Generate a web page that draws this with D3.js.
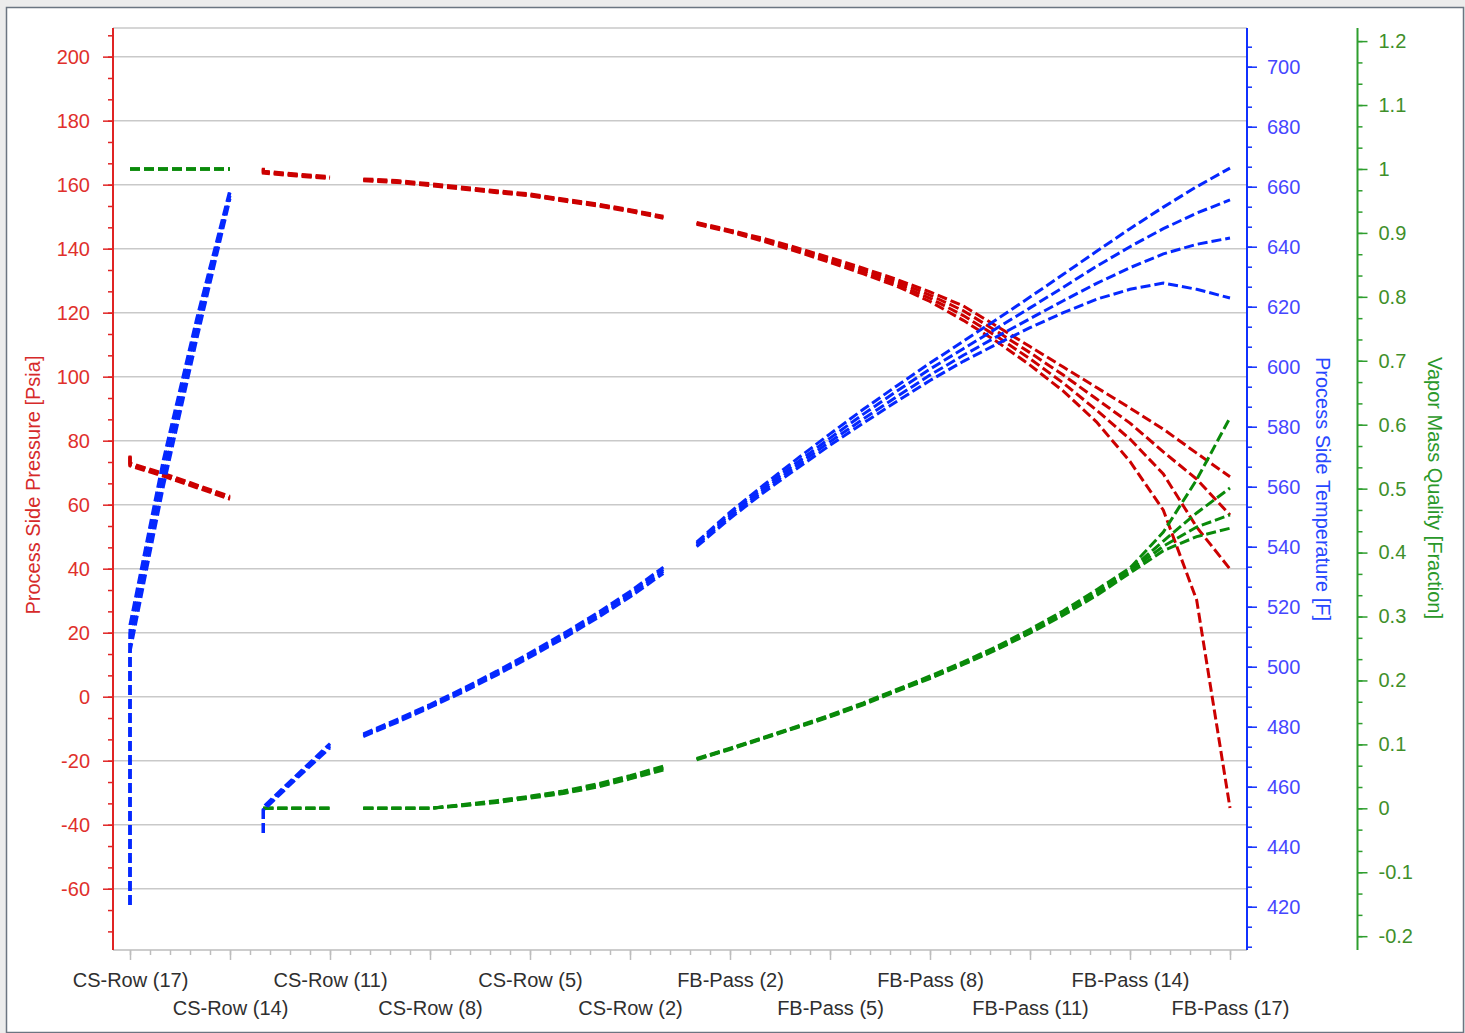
<!DOCTYPE html>
<html>
<head>
<meta charset="utf-8">
<script src="https://cdn.jsdelivr.net/npm/d3@7"></script>
<style>
  html, body { margin: 0; padding: 0; background: #ececec; }
  svg { display: block; }
  text { font-family: "Liberation Sans", Arial, sans-serif; }
</style>
</head>
<body>
<svg id="chart" width="1465" height="1033"></svg>
<script>
// ---- categories along the coil: convection rows 17..1, then firebox passes 1..17
const categories = [
  "CS-Row (17)", "CS-Row (16)", "CS-Row (15)", "CS-Row (14)", "CS-Row (13)", "CS-Row (12)",
  "CS-Row (11)", "CS-Row (10)", "CS-Row (9)", "CS-Row (8)", "CS-Row (7)", "CS-Row (6)",
  "CS-Row (5)", "CS-Row (4)", "CS-Row (3)", "CS-Row (2)", "CS-Row (1)",
  "FB-Pass (1)", "FB-Pass (2)", "FB-Pass (3)", "FB-Pass (4)", "FB-Pass (5)", "FB-Pass (6)",
  "FB-Pass (7)", "FB-Pass (8)", "FB-Pass (9)", "FB-Pass (10)", "FB-Pass (11)", "FB-Pass (12)",
  "FB-Pass (13)", "FB-Pass (14)", "FB-Pass (15)", "FB-Pass (16)", "FB-Pass (17)"
];

// ---- axis tick labels
const pressureTicks = [-60, -40, -20, 0, 20, 40, 60, 80, 100, 120, 140, 160, 180, 200];
const temperatureTicks = [420, 440, 460, 480, 500, 520, 540, 560, 580, 600, 620, 640, 660, 680, 700];
const qualityTicks = [-0.2, -0.1, 0, 0.1, 0.2, 0.3, 0.4, 0.5, 0.6, 0.7, 0.8, 0.9, 1, 1.1, 1.2];

// ---- section A: steam coil, CS rows 17-14 (first point is the coil inlet)
const coilA_pos = [0, 0, 1, 2, 3];
const coilA_pressure = [
  [75.4, 73.0, 69.8, 66.2, 62.6],
  [75.2, 72.7, 69.5, 65.9, 62.3],
  [75.0, 72.4, 69.2, 65.6, 62.0],
  [74.8, 72.1, 68.9, 65.3, 61.7]
];
const coilA_temperature = [
  [420.6, 514, 569, 616, 659],
  [420.6, 511, 566, 614, 658],
  [420.6, 508, 563, 611, 657],
  [420.6, 505, 560, 609, 656]
];
const coilA_quality = [
  [1, 1, 1, 1, 1],
  [1, 1, 1, 1, 1],
  [1, 1, 1, 1, 1],
  [1, 1, 1, 1, 1]
];

// ---- section B: CS rows 13-11 (first point is the section inlet)
const coilB_pos = [4, 4, 5, 6];
const coilB_pressure = [
  [165.3, 164.2, 163.3, 162.5],
  [165.1, 164.0, 163.1, 162.3],
  [164.9, 163.8, 162.9, 162.1],
  [164.7, 163.6, 162.7, 161.9]
];
const coilB_temperature = [
  [444.6, 453.3, 463.9, 474.4],
  [444.6, 452.9, 463.5, 473.9],
  [444.6, 452.5, 463.1, 473.4],
  [444.6, 452.1, 462.7, 472.9]
];
const coilB_quality = [
  [0, 0, 0, 0],
  [0, 0, 0, 0],
  [0, 0, 0, 0],
  [0, 0, 0, 0]
];

// ---- section C: CS rows 10-1
const coilC_pos = [7, 8, 9, 10, 11, 12, 13, 14, 15, 16];
const coilC_pressure = [
  [161.8, 161.3, 160.3, 159.2, 158.1, 157.1, 155.5, 154.0, 152.2, 150.1],
  [161.6, 161.1, 160.1, 159.0, 157.9, 156.9, 155.3, 153.8, 152.0, 149.9],
  [161.4, 160.9, 159.9, 158.8, 157.7, 156.7, 155.1, 153.6, 151.8, 149.7],
  [161.2, 160.7, 159.7, 158.6, 157.5, 156.5, 154.9, 153.4, 151.6, 149.5]
];
const coilC_temperature = [
  [477.6, 482.4, 487.4, 492.8, 498.5, 504.6, 511.0, 517.8, 525.1, 533.2],
  [477.3, 482.0, 487.0, 492.4, 498.1, 504.1, 510.4, 517.2, 524.5, 532.5],
  [477.0, 481.7, 486.7, 492.0, 497.6, 503.6, 509.9, 516.6, 523.8, 531.8],
  [476.7, 481.4, 486.4, 491.6, 497.2, 503.2, 509.4, 516.1, 523.2, 531.1]
];
const coilC_quality = [
  [0, 0, 0, 0.006, 0.012, 0.019, 0.027, 0.038, 0.051, 0.066],
  [0, 0, 0, 0.005, 0.011, 0.018, 0.025, 0.036, 0.049, 0.064],
  [0, 0, 0, 0.005, 0.010, 0.017, 0.024, 0.035, 0.047, 0.062],
  [0, 0, 0, 0.004, 0.009, 0.016, 0.023, 0.033, 0.046, 0.060]
];

// ---- section D: firebox passes 1-17
const coilD_pos = [17, 18, 19, 20, 21, 22, 23, 24, 25, 26, 27, 28, 29, 30, 31, 32, 33];
const coilD_pressure = [
  [148.2, 145.8, 143.2, 140.3, 137.2, 133.9, 130.4, 126.5, 122.1, 115.8, 109.4, 103.0, 96.6, 90.2, 83.6, 76.1, 68.7],
  [148.0, 145.6, 142.9, 139.9, 136.7, 133.3, 129.7, 125.5, 120.6, 114.2, 107.5, 100.5, 93.0, 85.5, 76.5, 68.0, 56.8],
  [147.8, 145.4, 142.6, 139.5, 136.2, 132.7, 129.0, 124.5, 119.1, 112.6, 105.6, 98.0, 89.5, 80.5, 69.6, 53.0, 39.9],
  [147.6, 145.2, 142.3, 139.1, 135.7, 132.1, 128.3, 123.5, 117.6, 111.0, 103.6, 95.5, 85.8, 73.5, 58.3, 30.2, -34.8]
];
const coilD_temperature = [
  [541.5, 551.5, 560.5, 569.2, 577.6, 585.8, 593.6, 601.2, 608.5, 615.8, 623.2, 630.8, 638.5, 646.0, 653.2, 660.0, 666.2],
  [541.0, 550.8, 559.6, 568.0, 576.2, 584.2, 591.8, 599.2, 606.0, 612.8, 619.6, 626.5, 633.5, 640.0, 646.0, 651.2, 655.6],
  [540.5, 550.1, 558.8, 567.0, 575.0, 582.6, 590.0, 597.2, 603.8, 610.0, 616.0, 622.0, 627.8, 633.0, 637.6, 640.8, 642.9],
  [540.0, 549.4, 558.0, 566.0, 573.8, 581.2, 588.4, 595.4, 601.8, 607.5, 613.0, 618.0, 622.5, 625.8, 627.9, 625.8, 622.9]
];
const coilD_quality = [
  [0.078, 0.094, 0.111, 0.128, 0.146, 0.165, 0.186, 0.207, 0.229, 0.253, 0.280, 0.309, 0.342, 0.376, 0.432, 0.514, 0.611],
  [0.077, 0.093, 0.110, 0.127, 0.145, 0.164, 0.185, 0.205, 0.227, 0.251, 0.277, 0.306, 0.338, 0.373, 0.418, 0.462, 0.501],
  [0.077, 0.093, 0.110, 0.127, 0.144, 0.163, 0.184, 0.204, 0.226, 0.249, 0.275, 0.304, 0.335, 0.371, 0.410, 0.440, 0.459],
  [0.076, 0.092, 0.109, 0.126, 0.143, 0.162, 0.183, 0.203, 0.225, 0.248, 0.274, 0.302, 0.333, 0.368, 0.403, 0.425, 0.438]
];

const sections = [
  { pos: coilA_pos, pressure: coilA_pressure, temperature: coilA_temperature, quality: coilA_quality },
  { pos: coilB_pos, pressure: coilB_pressure, temperature: coilB_temperature, quality: coilB_quality },
  { pos: coilC_pos, pressure: coilC_pressure, temperature: coilC_temperature, quality: coilC_quality },
  { pos: coilD_pos, pressure: coilD_pressure, temperature: coilD_temperature, quality: coilD_quality }
];

// ---- colours
const C = {
  pressure: "#cc0000", temperature: "#0528ff", quality: "#0a8a0a",
  pAxis: "#e02424", tAxis: "#1030ff", qAxis: "#2e9e2e",
  pText: "#e0302c", tText: "#4646ff", qText: "#3f8f2a",
  grid: "#c9c9c9", label: "#2f2f2f"
};

const svg = d3.select("#chart");
svg.append("rect")
  .attr("x", 6.5).attr("y", 7.5).attr("width", 1457).attr("height", 1025)
  .attr("fill", "#ffffff").attr("stroke", "#6b7581").attr("stroke-width", 1.5);

const plot = { left: 113, right: 1247, top: 28, bottom: 950 };

const x = d3.scaleLinear().domain([0, categories.length - 1]).range([130, 1230]);
const yP = d3.scaleLinear().domain([-79.15, 208.95]).range([plot.bottom, plot.top]);
const yT = d3.scaleLinear().domain([405.57, 712.9]).range([plot.bottom, plot.top]);
const yQ = d3.scaleLinear().domain([-0.2216, 1.2205]).range([plot.bottom, plot.top]);

// ---- horizontal grid (pressure majors) and plot top edge
const grid = svg.append("g");
grid.selectAll("line.g").data(pressureTicks).join("line")
  .attr("x1", plot.left).attr("x2", plot.right)
  .attr("y1", d => yP(d)).attr("y2", d => yP(d))
  .attr("stroke", C.grid).attr("stroke-width", 1.5);
grid.append("line")
  .attr("x1", plot.left).attr("x2", plot.right)
  .attr("y1", plot.top).attr("y2", plot.top)
  .attr("stroke", C.grid).attr("stroke-width", 1.5);

// ---- category axis
const xMinor = d3.range(0, categories.length - 1 + 0.001, 0.6);
const xMajor = d3.range(0, categories.length, 3);
const gx = svg.append("g").attr("transform", `translate(0,${plot.bottom})`);
gx.append("line").attr("x1", plot.left).attr("x2", plot.right)
  .attr("stroke", "#bdbdbd").attr("stroke-width", 1.5);
gx.append("g").call(d3.axisBottom(x).tickValues(xMinor).tickSize(5).tickFormat(""))
  .call(g => g.select(".domain").remove())
  .call(g => g.selectAll("line").attr("stroke", "#bdbdbd").attr("stroke-width", 1.5));
gx.append("g").call(d3.axisBottom(x).tickValues(xMajor).tickSize(10).tickFormat(i => categories[i]))
  .call(g => g.select(".domain").remove())
  .call(g => g.selectAll("line").attr("stroke", "#bdbdbd").attr("stroke-width", 1.5))
  .call(g => g.selectAll("text")
    .attr("dy", null)
    .attr("y", (d, k) => k % 2 === 0 ? 37 : 65)
    .attr("fill", C.label)
    .style("font-size", "20px")
    .style("font-family", '"Liberation Sans", Arial, sans-serif'));

// ---- value axes
function valueAxis(axisFn, scale, majors, fmt, xPos, color, textColor, pad) {
  const step = (majors[1] - majors[0]) / 3;
  const [lo, hi] = scale.domain();
  const minors = [];
  for (let v = majors[0] - Math.floor((majors[0] - lo) / step) * step; v <= hi + 1e-9; v += step) minors.push(v);
  const g = svg.append("g").attr("transform", `translate(${xPos},0)`);
  g.append("g").call(axisFn(scale).tickValues(minors).tickSize(5).tickFormat(""))
    .call(a => a.select(".domain").remove())
    .call(a => a.selectAll("line").attr("stroke", color).attr("stroke-width", 1.5));
  g.append("g").call(axisFn(scale).tickValues(majors).tickSize(10).tickPadding(pad).tickFormat(fmt))
    .call(a => a.select(".domain").remove())
    .call(a => a.selectAll("line").attr("stroke", color).attr("stroke-width", 1.5))
    .call(a => a.selectAll("text").attr("fill", textColor)
      .style("font-size", "20px")
      .style("font-family", '"Liberation Sans", Arial, sans-serif'));
  g.append("line").attr("y1", plot.top).attr("y2", plot.bottom)
    .attr("stroke", color).attr("stroke-width", 2);
}
valueAxis(d3.axisLeft, yP, pressureTicks, d => String(d), plot.left, C.pAxis, C.pText, 13);
valueAxis(d3.axisRight, yT, temperatureTicks, d => String(d), plot.right, C.tAxis, C.tText, 10);
valueAxis(d3.axisRight, yQ, qualityTicks, d => String(+d.toFixed(1)), 1357.5, C.qAxis, C.qText, 11);

// ---- axis titles
function title(txt, tx, ty, rot, color) {
  svg.append("text")
    .attr("transform", `translate(${tx},${ty}) rotate(${rot})`)
    .attr("text-anchor", "middle")
    .attr("fill", color)
    .style("font-size", "20px")
    .text(txt);
}
title("Process Side Pressure [Psia]", 40, 485, -90, "#d62a2a");
title("Process Side Temperature [F]", 1316, 489, 90, "#2848ff");
title("Vapor Mass Quality [Fraction]", 1428, 488, 90, "#2a982a");

// ---- series: one dashed polyline per pass and section
const layer = svg.append("g").attr("fill", "none")
  .attr("stroke-width", 3).attr("stroke-dasharray", "10,4");
const vars = [
  { key: "pressure", scale: yP, color: C.pressure },
  { key: "quality", scale: yQ, color: C.quality },
  { key: "temperature", scale: yT, color: C.temperature }
];
vars.forEach(v => {
  const line = d3.line().x(d => x(d[0])).y(d => v.scale(d[1]));
  sections.forEach(sec => {
    sec[v.key].forEach(pass => {
      layer.append("path")
        .attr("d", line(pass.map((val, k) => [sec.pos[k], val])))
        .attr("stroke", v.color);
    });
  });
});
</script>
</body>
</html>
